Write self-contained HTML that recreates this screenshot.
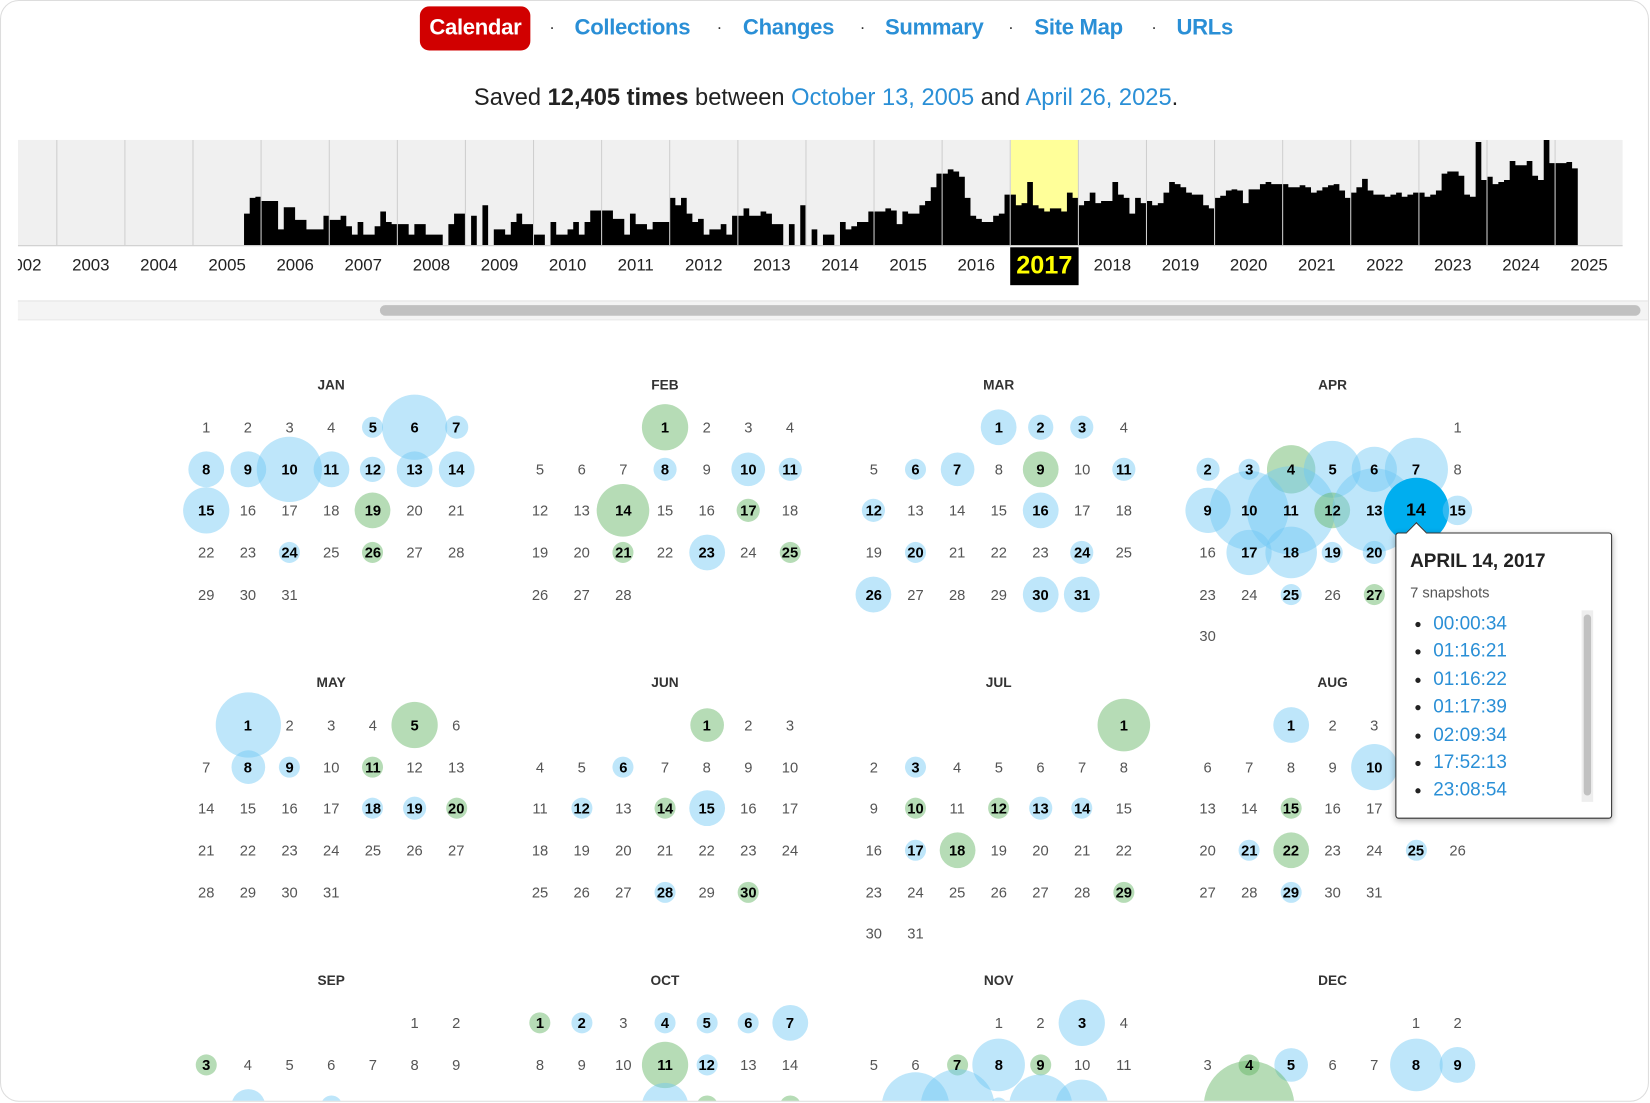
<!DOCTYPE html>
<html><head><meta charset="utf-8"><style>
html,body{margin:0;padding:0;width:1650px;height:1103px;overflow:hidden;background:#fff}
#w{position:absolute;left:0;top:0;width:1568px;height:1048px;transform:scale(1.0523);transform-origin:0 0;font-family:"Liberation Sans",Arial,sans-serif}
#card{position:absolute;left:0;top:0;width:1565px;height:1045px;border:1px solid #ddd;border-radius:18px;overflow:hidden;background:#fff}
#nav{position:absolute;top:5px;left:0;width:1568px;height:42px}
#nav a{position:absolute;top:0;line-height:42px;font-size:21px;font-weight:bold;color:#2a8fd6;text-decoration:none;letter-spacing:-0.3px}
#nav .cal{background:#d10000;color:#fff;border-radius:9px;padding:0 9px}
#nav .dot{position:absolute;top:0;line-height:42px;font-size:16px;color:#333}
#saved{position:absolute;top:79px;left:0;width:1568px;text-align:center;font-size:22.5px;color:#222}
#saved span{color:#2a8fd6}
.m{position:absolute;width:277px;z-index:0}
.m h4{margin:0;height:20px;line-height:20px;text-align:center;font-size:13px;font-weight:bold;color:#333}
.c{margin-top:10px;display:grid;grid-template-columns:repeat(7,39.6px);grid-auto-rows:39.7px}
.c i,.c b{display:flex;align-items:center;justify-content:center;font-style:normal;font-size:14px;position:relative}
.c i{color:#555}
.c b{color:#000;font-weight:bold}
.c b::before{content:"";position:absolute;left:50%;top:50%;width:var(--d);height:var(--d);transform:translate(-50%,-50%);border-radius:50%;background:rgba(110,200,245,.45);z-index:-1}
.c b.g::before{background:rgba(100,180,100,.47)}
.c b.h{font-size:17px}
.c b.h::before{background:#00aeef}
#tip{position:absolute;left:1325px;top:505px;width:204px;height:270px;background:#fff;border:1px solid #333;border-radius:3px;box-shadow:0 2px 6px rgba(0,0,0,.3);z-index:5}
#tip .ar{position:absolute;left:12px;top:-8px;width:13px;height:13px;background:#fff;border-left:1px solid #333;border-top:1px solid #333;transform:rotate(45deg)}
#tip h3{position:absolute;left:13px;top:16px;margin:0;font-size:18px;color:#222}
#tip .n{position:absolute;left:13px;top:48px;font-size:14px;color:#555}
#tip ul{position:absolute;left:0;top:72px;margin:0;padding:0 0 0 35px;font-size:18px;line-height:26.4px;color:#2a8fd6}
#tip li::marker{color:#222}
#tip .sb{position:absolute;left:176px;top:73px;width:11px;height:182px;background:#eee}
#tip .sb div{position:absolute;left:2px;top:4px;width:7px;height:172px;background:#c1c1c1;border-radius:4px}
</style></head><body><div id="w"><div id="card">
<div id="nav">
<a class="cal" style="left:398px">Calendar</a>
<span class="dot" style="left:521px">·</span><a style="left:545px">Collections</a>
<span class="dot" style="left:680px">·</span><a style="left:705px">Changes</a>
<span class="dot" style="left:816px">·</span><a style="left:840px">Summary</a>
<span class="dot" style="left:957px">·</span><a style="left:982px">Site Map</a>
<span class="dot" style="left:1093px">·</span><a style="left:1117px">URLs</a>
</div>
<div id="saved">Saved <b>12,405 times</b> between <span>October 13, 2005</span> and <span>April 26, 2025</span>.</div>
<svg style="position:absolute;left:0;top:0" width="1568" height="310">
<defs><clipPath id="cp"><rect x="16" y="0" width="1530" height="310"/></clipPath></defs>
<g clip-path="url(#cp)">
<rect x="16" y="132" width="1525" height="100" fill="#f0f0f0"/>
<rect x="959.6" y="132" width="64.7" height="100" fill="#ffff99"/>
<g fill="#000">
<path transform="translate(182.4,232) scale(1,-1)" d="M0 0V0h5.39V0h5.39V0h5.39V0h5.39V0h5.39V0h5.39V0h5.39V0h5.39V0h5.39V30h5.39V45h5.39V46h5.39V0Z"/>
<path transform="translate(247.1,232) scale(1,-1)" d="M0 0V42h5.39V42h5.39V42h5.39V15h5.39V36h5.39V36h5.39V24h5.39V24h5.39V15h5.39V15h5.39V15h5.39V28h5.39V0Z"/>
<path transform="translate(311.9,232) scale(1,-1)" d="M0 0V24h5.39V24h5.39V28h5.39V18h5.39V10h5.39V22h5.39V10h5.39V10h5.39V18h5.39V32h5.39V22h5.39V20h5.39V0Z"/>
<path transform="translate(376.6,232) scale(1,-1)" d="M0 0V20h5.39V20h5.39V10h5.39V20h5.39V20h5.39V10h5.39V10h5.39V10h5.39V0h5.39V20h5.39V30h5.39V30h5.39V0Z"/>
<path transform="translate(441.3,232) scale(1,-1)" d="M0 0V0h5.39V28h5.39V0h5.39V38h5.39V0h5.39V15h5.39V15h5.39V10h5.39V22h5.39V30h5.39V20h5.39V20h5.39V0Z"/>
<path transform="translate(506,232) scale(1,-1)" d="M0 0V10h5.39V10h5.39V0h5.39V22h5.39V10h5.39V10h5.39V15h5.39V22h5.39V10h5.39V22h5.39V33h5.39V33h5.39V0Z"/>
<path transform="translate(570.7,232) scale(1,-1)" d="M0 0V33h5.39V33h5.39V25h5.39V25h5.39V10h5.39V30h5.39V20h5.39V20h5.39V15h5.39V22h5.39V22h5.39V22h5.39V0Z"/>
<path transform="translate(635.4,232) scale(1,-1)" d="M0 0V45h5.39V38h5.39V45h5.39V30h5.39V22h5.39V25h5.39V10h5.39V15h5.39V15h5.39V20h5.39V10h5.39V28h5.39V0Z"/>
<path transform="translate(700.2,232) scale(1,-1)" d="M0 0V28h5.39V35h5.39V28h5.39V28h5.39V32h5.39V30h5.39V20h5.39V20h5.39V0h5.39V20h5.39V0h5.39V38h5.39V0Z"/>
<path transform="translate(764.9,232) scale(1,-1)" d="M0 0V0h5.39V15h5.39V0h5.39V10h5.39V10h5.39V0h5.39V22h5.39V15h5.39V18h5.39V22h5.39V22h5.39V32h5.39V0Z"/>
<path transform="translate(829.6,232) scale(1,-1)" d="M0 0V32h5.39V32h5.39V35h5.39V33h5.39V20h5.39V32h5.39V30h5.39V30h5.39V38h5.39V42h5.39V55h5.39V68h5.39V0Z"/>
<path transform="translate(894.3,232) scale(1,-1)" d="M0 0V68h5.39V72h5.39V70h5.39V65h5.39V45h5.39V28h5.39V25h5.39V22h5.39V22h5.39V28h5.39V30h5.39V48h5.39V0Z"/>
<path transform="translate(959,232) scale(1,-1)" d="M0 0V48h5.39V38h5.39V40h5.39V60h5.39V38h5.39V35h5.39V32h5.39V35h5.39V35h5.39V32h5.39V50h5.39V45h5.39V0Z"/>
<path transform="translate(1023.8,232) scale(1,-1)" d="M0 0V38h5.39V42h5.39V50h5.39V40h5.39V42h5.39V42h5.39V60h5.39V48h5.39V45h5.39V30h5.39V45h5.39V40h5.39V0Z"/>
<path transform="translate(1088.5,232) scale(1,-1)" d="M0 0V42h5.39V38h5.39V40h5.39V50h5.39V60h5.39V58h5.39V55h5.39V50h5.39V48h5.39V48h5.39V38h5.39V35h5.39V0Z"/>
<path transform="translate(1153.2,232) scale(1,-1)" d="M0 0V45h5.39V47h5.39V52h5.39V53h5.39V52h5.39V40h5.39V53h5.39V53h5.39V58h5.39V60h5.39V58h5.39V58h5.39V0Z"/>
<path transform="translate(1217.9,232) scale(1,-1)" d="M0 0V58h5.39V55h5.39V55h5.39V57h5.39V55h5.39V50h5.39V52h5.39V55h5.39V57h5.39V58h5.39V52h5.39V45h5.39V0Z"/>
<path transform="translate(1282.6,232) scale(1,-1)" d="M0 0V50h5.39V55h5.39V63h5.39V52h5.39V48h5.39V48h5.39V46h5.39V48h5.39V50h5.39V46h5.39V48h5.39V50h5.39V0Z"/>
<path transform="translate(1347.4,232) scale(1,-1)" d="M0 0V50h5.39V46h5.39V48h5.39V52h5.39V68h5.39V70h5.39V70h5.39V66h5.39V48h5.39V46h5.39V98h5.39V62h5.39V0Z"/>
<path transform="translate(1412.1,232) scale(1,-1)" d="M0 0V65h5.39V58h5.39V60h5.39V62h5.39V80h5.39V76h5.39V76h5.39V80h5.39V66h5.39V62h5.39V100h5.39V78h5.39V0Z"/>
<path transform="translate(1476.8,232) scale(1,-1)" d="M0 0V78h5.39V78h5.39V79h5.39V73h5.39V0Z"/>
</g>
<g stroke="#cfcfcf" stroke-width="1">
<line x1="53" y1="132" x2="53" y2="232"/><line x1="117.7" y1="132" x2="117.7" y2="232"/><line x1="182.4" y1="132" x2="182.4" y2="232"/><line x1="247.1" y1="132" x2="247.1" y2="232"/><line x1="311.9" y1="132" x2="311.9" y2="232"/><line x1="376.6" y1="132" x2="376.6" y2="232"/><line x1="441.3" y1="132" x2="441.3" y2="232"/><line x1="506" y1="132" x2="506" y2="232"/><line x1="570.7" y1="132" x2="570.7" y2="232"/><line x1="635.4" y1="132" x2="635.4" y2="232"/><line x1="700.2" y1="132" x2="700.2" y2="232"/><line x1="764.9" y1="132" x2="764.9" y2="232"/><line x1="829.6" y1="132" x2="829.6" y2="232"/><line x1="894.3" y1="132" x2="894.3" y2="232"/><line x1="959" y1="132" x2="959" y2="232"/><line x1="1023.8" y1="132" x2="1023.8" y2="232"/><line x1="1088.5" y1="132" x2="1088.5" y2="232"/><line x1="1153.2" y1="132" x2="1153.2" y2="232"/><line x1="1217.9" y1="132" x2="1217.9" y2="232"/><line x1="1282.6" y1="132" x2="1282.6" y2="232"/><line x1="1347.4" y1="132" x2="1347.4" y2="232"/><line x1="1412.1" y1="132" x2="1412.1" y2="232"/><line x1="1476.8" y1="132" x2="1476.8" y2="232"/>
</g>
<line x1="16" y1="232.5" x2="1541" y2="232.5" stroke="#ccc"/>
<rect x="959" y="234" width="65" height="36" fill="#000"/>
<g font-family="Liberation Sans, Arial, sans-serif" font-size="16" fill="#222" text-anchor="middle">
<text x="20.6" y="256">2002</text><text x="85.3" y="256">2003</text><text x="150" y="256">2004</text><text x="214.8" y="256">2005</text><text x="279.5" y="256">2006</text><text x="344.2" y="256">2007</text><text x="409" y="256">2008</text><text x="473.7" y="256">2009</text><text x="538.4" y="256">2010</text><text x="603.1" y="256">2011</text><text x="667.8" y="256">2012</text><text x="732.5" y="256">2013</text><text x="797.3" y="256">2014</text><text x="862" y="256">2015</text><text x="926.7" y="256">2016</text><text x="991.4" y="259" font-size="24" font-weight="bold" fill="#ffff00">2017</text><text x="1056.1" y="256">2018</text><text x="1120.8" y="256">2019</text><text x="1185.6" y="256">2020</text><text x="1250.3" y="256">2021</text><text x="1315" y="256">2022</text><text x="1379.7" y="256">2023</text><text x="1444.4" y="256">2024</text><text x="1509.1" y="256">2025</text>
</g>
</g>
<rect x="16" y="285" width="1552" height="18" fill="#f4f4f4"/>
<line x1="16" y1="285" x2="1568" y2="285" stroke="#e4e4e4"/>
<line x1="16" y1="303" x2="1568" y2="303" stroke="#e8e8e8"/>
<rect x="360" y="289" width="1198" height="10" rx="5" fill="#c1c1c1"/>
</svg>

<div class="m" style="left:175.2px;top:355px"><h4>JAN</h4><div class="c">
<i>1</i><i>2</i><i>3</i><i>4</i><b style="--d:20px">5</b><b style="--d:62px">6</b><b style="--d:22px">7</b>
<b style="--d:34px">8</b><b style="--d:34px">9</b><b style="--d:62px">10</b><b style="--d:34px">11</b><b style="--d:24px">12</b><b style="--d:34px">13</b><b style="--d:34px">14</b>
<b style="--d:44px">15</b><i>16</i><i>17</i><i>18</i><b class="g" style="--d:34px">19</b><i>20</i><i>21</i>
<i>22</i><i>23</i><b style="--d:20px">24</b><i>25</i><b class="g" style="--d:20px">26</b><i>27</i><i>28</i>
<i>29</i><i>30</i><i>31</i></div></div>

<div class="m" style="left:492.4px;top:355px"><h4>FEB</h4><div class="c">
<s></s><s></s><s></s><b class="g" style="--d:44px">1</b><i>2</i><i>3</i><i>4</i>
<i>5</i><i>6</i><i>7</i><b style="--d:22px">8</b><i>9</i><b style="--d:32px">10</b><b style="--d:22px">11</b>
<i>12</i><i>13</i><b class="g" style="--d:50px">14</b><i>15</i><i>16</i><b class="g" style="--d:22px">17</b><i>18</i>
<i>19</i><i>20</i><b class="g" style="--d:20px">21</b><i>22</i><b style="--d:34px">23</b><i>24</i><b class="g" style="--d:20px">25</b>
<i>26</i><i>27</i><i>28</i></div></div>

<div class="m" style="left:809.6px;top:355px"><h4>MAR</h4><div class="c">
<s></s><s></s><s></s><b style="--d:34px">1</b><b style="--d:24px">2</b><b style="--d:22px">3</b><i>4</i>
<i>5</i><b style="--d:20px">6</b><b style="--d:32px">7</b><i>8</i><b class="g" style="--d:34px">9</b><i>10</i><b style="--d:22px">11</b>
<b style="--d:22px">12</b><i>13</i><i>14</i><i>15</i><b style="--d:34px">16</b><i>17</i><i>18</i>
<i>19</i><b style="--d:20px">20</b><i>21</i><i>22</i><i>23</i><b style="--d:22px">24</b><i>25</i>
<b style="--d:34px">26</b><i>27</i><i>28</i><i>29</i><b style="--d:34px">30</b><b style="--d:34px">31</b></div></div>

<div class="m" style="left:1126.8px;top:355px"><h4>APR</h4><div class="c">
<s></s><s></s><s></s><s></s><s></s><s></s><i>1</i>
<b style="--d:22px">2</b><b style="--d:20px">3</b><b class="g" style="--d:46px">4</b><b style="--d:54px">5</b><b style="--d:43px">6</b><b style="--d:60px">7</b><i>8</i>
<b style="--d:43px">9</b><b style="--d:75px">10</b><b style="--d:84px">11</b><b class="g" style="--d:34px">12</b><b style="--d:80px">13</b><b class="h" style="--d:62px">14</b><b style="--d:28px">15</b>
<i>16</i><b style="--d:43px">17</b><b style="--d:49px">18</b><b style="--d:20px">19</b><b style="--d:22px">20</b><i>21</i><i>22</i>
<i>23</i><i>24</i><b style="--d:20px">25</b><i>26</i><b class="g" style="--d:20px">27</b><i>28</i><i>29</i>
<i>30</i></div></div>

<div class="m" style="left:175.2px;top:638px"><h4>MAY</h4><div class="c">
<s></s><b style="--d:62px">1</b><i>2</i><i>3</i><i>4</i><b class="g" style="--d:44px">5</b><i>6</i>
<i>7</i><b style="--d:32px">8</b><b style="--d:20px">9</b><i>10</i><b class="g" style="--d:20px">11</b><i>12</i><i>13</i>
<i>14</i><i>15</i><i>16</i><i>17</i><b style="--d:20px">18</b><b style="--d:22px">19</b><b class="g" style="--d:20px">20</b>
<i>21</i><i>22</i><i>23</i><i>24</i><i>25</i><i>26</i><i>27</i>
<i>28</i><i>29</i><i>30</i><i>31</i></div></div>

<div class="m" style="left:492.4px;top:638px"><h4>JUN</h4><div class="c">
<s></s><s></s><s></s><s></s><b class="g" style="--d:32px">1</b><i>2</i><i>3</i>
<i>4</i><i>5</i><b style="--d:20px">6</b><i>7</i><i>8</i><i>9</i><i>10</i>
<i>11</i><b style="--d:20px">12</b><i>13</i><b class="g" style="--d:20px">14</b><b style="--d:34px">15</b><i>16</i><i>17</i>
<i>18</i><i>19</i><i>20</i><i>21</i><i>22</i><i>23</i><i>24</i>
<i>25</i><i>26</i><i>27</i><b style="--d:20px">28</b><i>29</i><b class="g" style="--d:20px">30</b></div></div>

<div class="m" style="left:809.6px;top:638px"><h4>JUL</h4><div class="c">
<s></s><s></s><s></s><s></s><s></s><s></s><b class="g" style="--d:50px">1</b>
<i>2</i><b style="--d:20px">3</b><i>4</i><i>5</i><i>6</i><i>7</i><i>8</i>
<i>9</i><b class="g" style="--d:20px">10</b><i>11</i><b class="g" style="--d:20px">12</b><b style="--d:22px">13</b><b style="--d:20px">14</b><i>15</i>
<i>16</i><b style="--d:20px">17</b><b class="g" style="--d:34px">18</b><i>19</i><i>20</i><i>21</i><i>22</i>
<i>23</i><i>24</i><i>25</i><i>26</i><i>27</i><i>28</i><b class="g" style="--d:20px">29</b>
<i>30</i><i>31</i></div></div>

<div class="m" style="left:1126.8px;top:638px"><h4>AUG</h4><div class="c">
<s></s><s></s><b style="--d:34px">1</b><i>2</i><i>3</i><i>4</i><i>5</i>
<i>6</i><i>7</i><i>8</i><i>9</i><b style="--d:44px">10</b><i>11</i><i>12</i>
<i>13</i><i>14</i><b class="g" style="--d:20px">15</b><i>16</i><i>17</i><i>18</i><i>19</i>
<i>20</i><b style="--d:20px">21</b><b class="g" style="--d:34px">22</b><i>23</i><i>24</i><b style="--d:20px">25</b><i>26</i>
<i>27</i><i>28</i><b style="--d:20px">29</b><i>30</i><i>31</i></div></div>

<div class="m" style="left:175.2px;top:921px"><h4>SEP</h4><div class="c">
<s></s><s></s><s></s><s></s><s></s><i>1</i><i>2</i>
<b class="g" style="--d:20px">3</b><i>4</i><i>5</i><i>6</i><i>7</i><i>8</i><i>9</i>
<i>10</i><b style="--d:32px">11</b><i>12</i><b style="--d:20px">13</b><i>14</i><i>15</i><i>16</i></div></div>

<div class="m" style="left:492.4px;top:921px"><h4>OCT</h4><div class="c">
<b class="g" style="--d:20px">1</b><b style="--d:20px">2</b><i>3</i><b style="--d:20px">4</b><b style="--d:20px">5</b><b style="--d:20px">6</b><b style="--d:34px">7</b>
<i>8</i><i>9</i><i>10</i><b class="g" style="--d:44px">11</b><b style="--d:20px">12</b><i>13</i><i>14</i>
<i>15</i><i>16</i><i>17</i><b style="--d:44px">18</b><b class="g" style="--d:20px">19</b><i>20</i><b class="g" style="--d:20px">21</b></div></div>

<div class="m" style="left:809.6px;top:921px"><h4>NOV</h4><div class="c">
<s></s><s></s><s></s><i>1</i><i>2</i><b style="--d:44px">3</b><i>4</i>
<i>5</i><i>6</i><b class="g" style="--d:20px">7</b><b style="--d:50px">8</b><b class="g" style="--d:20px">9</b><i>10</i><i>11</i>
<i>12</i><b style="--d:64px">13</b><b style="--d:70px">14</b><b style="--d:16px">15</b><b style="--d:60px">16</b><b style="--d:50px">17</b><i>18</i></div></div>

<div class="m" style="left:1126.8px;top:921px"><h4>DEC</h4><div class="c">
<s></s><s></s><s></s><s></s><s></s><i>1</i><i>2</i>
<i>3</i><b class="g" style="--d:20px">4</b><b style="--d:32px">5</b><i>6</i><i>7</i><b style="--d:50px">8</b><b style="--d:34px">9</b>
<i>10</i><b class="g" style="--d:86px">11</b><i>12</i><i>13</i><i>14</i><i>15</i><i>16</i></div></div>

<div id="tip"><div class="ar"></div>
<h3>APRIL 14, 2017</h3>
<div class="n">7 snapshots</div>
<ul><li>00:00:34</li><li>01:16:21</li><li>01:16:22</li><li>01:17:39</li><li>02:09:34</li><li>17:52:13</li><li>23:08:54</li></ul>
<div class="sb"><div></div></div>
</div>
</div></div></body></html>
